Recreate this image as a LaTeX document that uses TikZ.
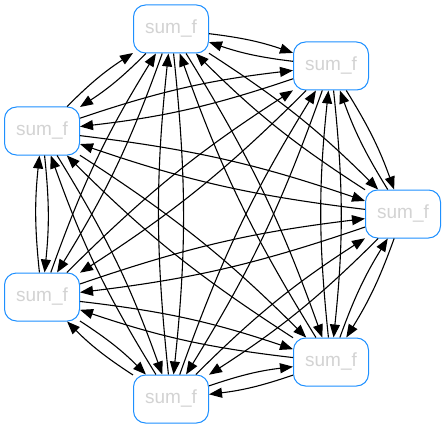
\documentclass[tikz,border=0pt]{standalone}
\usepackage{fontspec}
\setmainfont{Liberation Sans}
\usepackage{tikz}
\usetikzlibrary{arrows.meta}

\definecolor{nodeblue}{HTML}{1E90FF}
\definecolor{labelgray}{HTML}{D3D3D3}

\begin{document}
\begin{tikzpicture}[
    x=1pt, y=1pt,
    sumnode/.style={rectangle, draw=nodeblue, line width=1pt, rounded corners=12pt, fill=white,
        minimum width=75pt, minimum height=48pt, text=labelgray, inner sep=0pt,
        font=\fontsize{19}{20}\selectfont},
    flow/.style={-{Triangle[length=13pt, width=10pt]}, line width=1.1pt, black, bend left=6}
]
\useasboundingbox (0,0) rectangle (446,429);

% sum nodes, round the heptagon
\node[sumnode] (s1) at (171,400) {sum\_f};
\node[sumnode] (s2) at (331,363) {sum\_f};
\node[sumnode] (s3) at (403,215) {sum\_f};
\node[sumnode] (s4) at (331,67) {sum\_f};
\node[sumnode] (s5) at (171,30) {sum\_f};
\node[sumnode] (s6) at (42,132) {sum\_f};
\node[sumnode] (s7) at (42,298) {sum\_f};

% every node feeds every other node
\foreach \a in {1,...,7}
  \foreach \b in {1,...,7}
    {\ifnum\a=\b\else \draw[flow] (s\a) to (s\b);\fi}

\end{tikzpicture}
\end{document}
